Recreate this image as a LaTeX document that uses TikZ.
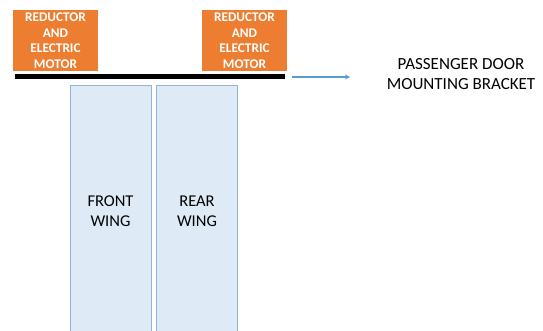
\documentclass[tikz,border=0pt]{standalone}
\usepackage{fontspec}
\setmainfont{Carlito}
\usepackage{tikz}
\usetikzlibrary{arrows.meta}
\definecolor{motororange}{RGB}{237,125,49}
\definecolor{wingfill}{RGB}{222,235,247}
\definecolor{wingedge}{RGB}{150,178,212}
\definecolor{arrowblue}{RGB}{91,155,213}
\tikzstyle{motor}=[fill=motororange, inner sep=0, outer sep=0, minimum width=85pt, minimum height=61pt,
                   text=white, align=center, font=\bfseries\fontsize{13.3}{15.6}\selectfont]
\tikzstyle{wing}=[draw=wingedge, fill=wingfill, line width=1pt, inner sep=0, outer sep=0,
                  minimum width=81pt, minimum height=250pt, align=center, font=\fontsize{16.5}{20}\selectfont]
\tikzstyle{bracket}=[fill=black, inner sep=0, outer sep=0, minimum width=270pt, minimum height=4.5pt]
\tikzstyle{caption}=[inner sep=0, align=center, font=\fontsize{17}{20.5}\selectfont]
\tikzstyle{diagram}=[x=1pt, y=-1pt,
                     % Keep the page the size of the reference.
                     execute at begin picture={\useasboundingbox (0,0) rectangle (543,331);}]

\begin{document}
\begin{tikzpicture}[diagram]
        \node[motor]   (M1) at (55.5, 40.5)  {REDUCTOR\\AND\\ELECTRIC\\MOTOR};
        \node[motor]   (M2) at (244.5, 40.5) {REDUCTOR\\AND\\ELECTRIC\\MOTOR};
        \node[bracket] (B)  at (150, 76.5)   {};
        \node[wing]    (W1) at (110.5, 211)  {FRONT\\WING};
        \node[wing]    (W2) at (197, 211)    {REAR\\WING};
        \node[caption] (C)  at (461, 74)     {PASSENGER DOOR\\MOUNTING BRACKET};
        \coordinate    (A1) at (292, 77);
        \coordinate    (A2) at (350, 77);
        \draw[arrowblue, line width=1.6pt, -{Stealth[length=5pt, width=5pt]}] (A1) -- (A2);
    \end{tikzpicture}
\end{document}
